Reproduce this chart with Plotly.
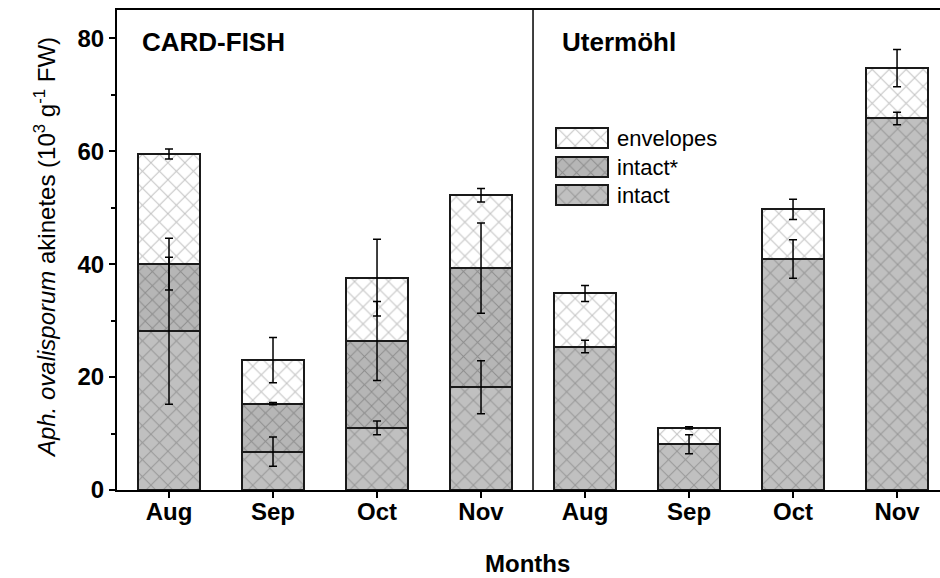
import plotly.graph_objects as go

# ---- data ----
positions = [1, 2, 3, 4, 5, 6, 7, 8]
tick_labels = ["Aug", "Sep", "Oct", "Nov", "Aug", "Sep", "Oct", "Nov"]

intact = [28.2, 6.8, 11.0, 18.2, 25.4, 8.1, 40.9, 65.8]
intact_err = [13.0, 2.6, 1.2, 4.7, 1.1, 1.7, 3.4, 1.1]

intact_star = [11.8, 8.5, 15.4, 21.1, None, None, None, None]
intact_star_err = [4.6, 0.2, 7.0, 8.0, None, None, None, None]

envelopes = [19.5, 7.7, 11.2, 12.9, 9.4, 2.9, 8.8, 8.9]
envelopes_err = [0.9, 4.0, 6.8, 1.2, 1.4, 0.2, 1.8, 3.3]

series_names = ["intact", "intact*", "envelopes"]
legend_order = ["envelopes", "intact*", "intact"]

FONT = "Liberation Sans, Arial, sans-serif"

styles = {
    "intact": dict(bg="#c0c0c0", fg="#6e6e6e", size=12, sol=0.16),
    "intact*": dict(bg="#b6b6b6", fg="#626262", size=10, sol=0.18),
    "envelopes": dict(bg="#ffffff", fg="#858585", size=12, sol=0.16),
}

def marker_for(name):
    s = styles[name]
    return dict(color=s["bg"], line=dict(color="#1a1a1a", width=2),
                pattern=dict(shape="x", fgcolor=s["fg"], bgcolor=s["bg"],
                             size=s["size"], solidity=s["sol"]))

fig = go.Figure()
values = {"intact": intact, "intact*": intact_star, "envelopes": envelopes}
errors = {"intact": intact_err, "intact*": intact_star_err, "envelopes": envelopes_err}

for name in series_names:
    fig.add_trace(go.Bar(x=positions, y=values[name], name=name, width=0.6,
                         marker=marker_for(name), showlegend=False,
                         hoverinfo="skip"))

# error bars drawn on top, at the cumulative top of each stacked segment
running = [0.0] * len(positions)
for name in series_names:
    xs, ys, es = [], [], []
    for i, v in enumerate(values[name]):
        if v is None:
            continue
        running[i] += v
        xs.append(positions[i]); ys.append(running[i]); es.append(errors[name][i])
    fig.add_trace(go.Scatter(x=xs, y=ys, mode="markers",
                             marker=dict(size=1, color="rgba(0,0,0,0)"),
                             error_y=dict(type="data", array=es, visible=True,
                                          color="black", thickness=1.5, width=4),
                             showlegend=False, hoverinfo="skip"))

# custom legend swatches on a pixel-scaled overlay axis
L, T, W, H = 117, 10, 823, 480
leg_x0, leg_w, leg_h = 556, 52, 20
leg_y = [138, 167, 195]
for name, yc in zip(legend_order, leg_y):
    fig.add_trace(go.Bar(x=[leg_w], y=[H - (yc - T)], base=[leg_x0 - L],
                         orientation="h", width=leg_h, marker=marker_for(name),
                         xaxis="x2", yaxis="y2", showlegend=False,
                         hoverinfo="skip"))

annotations = [
    dict(text="<b>CARD-FISH</b>", xref="x", yref="paper", x=0.72, y=0.933,
         xanchor="left", yanchor="middle", showarrow=False,
         font=dict(size=26, family=FONT)),
    dict(text="<b>Utermöhl</b>", xref="x", yref="paper", x=4.76, y=0.933,
         xanchor="left", yanchor="middle", showarrow=False,
         font=dict(size=26, family=FONT)),
    dict(text="<i>Aph. ovalisporum</i> akinetes (10<sup>3</sup> g<sup>-1</sup> FW)",
         xref="paper", yref="paper", x=0, y=0.504, xshift=-72,
         xanchor="center", yanchor="middle", textangle=-90, showarrow=False,
         font=dict(size=24, family=FONT)),
    dict(text="<b>Months</b>", xref="paper", yref="paper", x=0.5, y=-0.154,
         xshift=(527 - (L + W / 2)), xanchor="center", yanchor="middle",
         showarrow=False, font=dict(size=24, family=FONT)),
]
for name, yc in zip(legend_order, leg_y):
    annotations.append(dict(text=name, xref="x2", yref="y2", x=615 - L,
                            y=H - (yc - T), xanchor="left", yanchor="middle",
                            showarrow=False, font=dict(size=22, family=FONT)))

fig.update_layout(
    width=940, height=578,
    margin=dict(l=L, r=940 - L - W, t=T, b=578 - T - H, autoexpand=False),
    barmode="stack",
    plot_bgcolor="white", paper_bgcolor="white",
    font=dict(family=FONT, color="black"),
    showlegend=False,
    xaxis=dict(range=[0.5, 8.413], tickmode="array", tickvals=positions,
               ticktext=tick_labels, ticks="outside", ticklen=6, tickwidth=1.5,
               tickcolor="black", showline=True, linecolor="black", linewidth=2,
               mirror=True, showgrid=False, zeroline=False, automargin=False,
               ticklabelstandoff=-7,
               tickfont=dict(size=24, family=FONT, weight="bold")),
    yaxis=dict(range=[0, 85], tickvals=[0, 20, 40, 60, 80], ticks="outside",
               ticklen=6, tickwidth=1.5, tickcolor="black", showline=True,
               linecolor="black", linewidth=2, showgrid=False, zeroline=False,
               automargin=False,
               tickfont=dict(size=24, family=FONT, weight="bold"),
               minor=dict(tickvals=[10, 30, 50, 70], ticks="outside", ticklen=4,
                          tickwidth=1.5, tickcolor="black")),
    xaxis2=dict(range=[0, W], overlaying="x", visible=False, fixedrange=True),
    yaxis2=dict(range=[0, H], overlaying="y", visible=False, fixedrange=True),
    shapes=[dict(type="line", xref="x", yref="paper", x0=4.5, x1=4.5, y0=0, y1=1,
                 line=dict(color="black", width=1.5))],
    annotations=annotations,
)

fig.write_html("out.html", config={"displayModeBar": False},
               post_script="document.body.style.margin='0';")
